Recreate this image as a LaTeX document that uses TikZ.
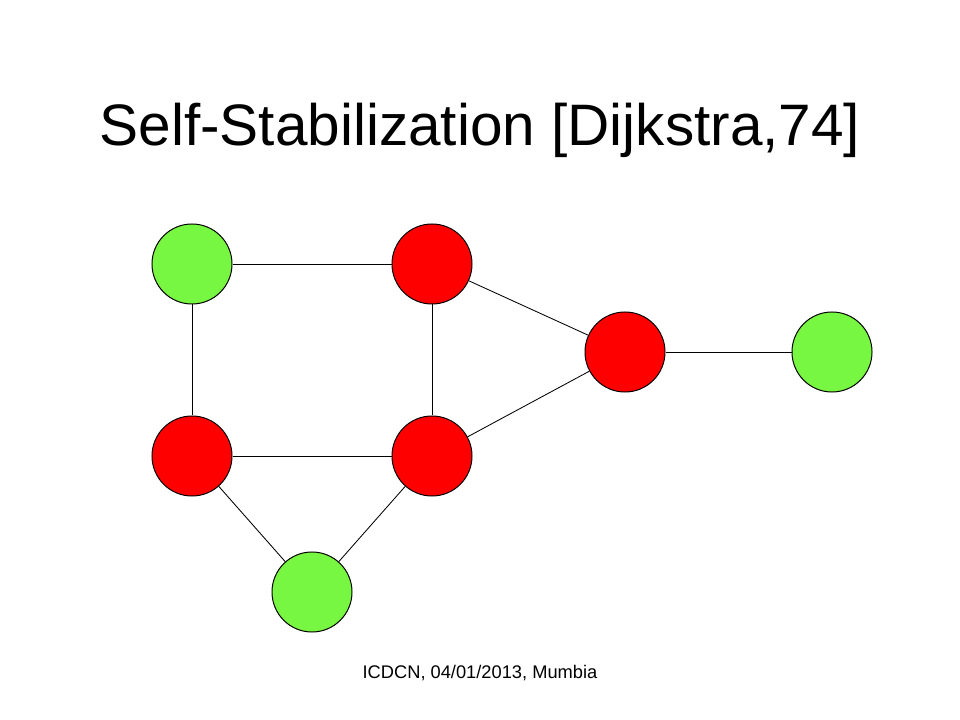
\documentclass[tikz,border=0pt]{standalone}
\usepackage{fontspec}
\setmainfont{Liberation Sans}
\usetikzlibrary{positioning}

\definecolor{goodgreen}{RGB}{119,246,66}
\definecolor{badred}{RGB}{255,0,0}

\begin{document}
\begin{tikzpicture}[x=0.025cm, y=-0.025cm,
                    every node/.append style={align=center},
                    proc/.style={circle, draw, line width=0.7pt, minimum size=2cm, inner sep=0pt},
                    ok/.style={proc, fill=goodgreen},
                    bad/.style={proc, fill=badred},
                    link/.style={draw, line width=0.6pt}]

                   \useasboundingbox (0,0) rectangle (960,720);

                   \node (title) at (480,130) {\fontsize{41.6pt}{48pt}\selectfont Self-Stabilization [Dijkstra,74]};

                   \node [ok]  (A) at (192,264) {};
                   \node [bad] (B) at (432,264) {};
                   \node [bad] (C) at (625,352) {};
                   \node [ok]  (D) at (832,352) {};
                   \node [bad] (E) at (192,456) {};
                   \node [bad] (F) at (432,456) {};
                   \node [ok]  (G) at (312,592) {};

                   \path[link] (A) -- (B);
                   \path[link] (A) -- (E);
                   \path[link] (B) -- (F);
                   \path[link] (B) -- (C);
                   \path[link] (C) -- (D);
                   \path[link] (C) -- (F);
                   \path[link] (E) -- (F);
                   \path[link] (E) -- (G);
                   \path[link] (F) -- (G);

                   \node (footer) at (480,673) {\fontsize{13pt}{15pt}\selectfont ICDCN, 04/01/2013, Mumbia};
                \end{tikzpicture}
\end{document}
